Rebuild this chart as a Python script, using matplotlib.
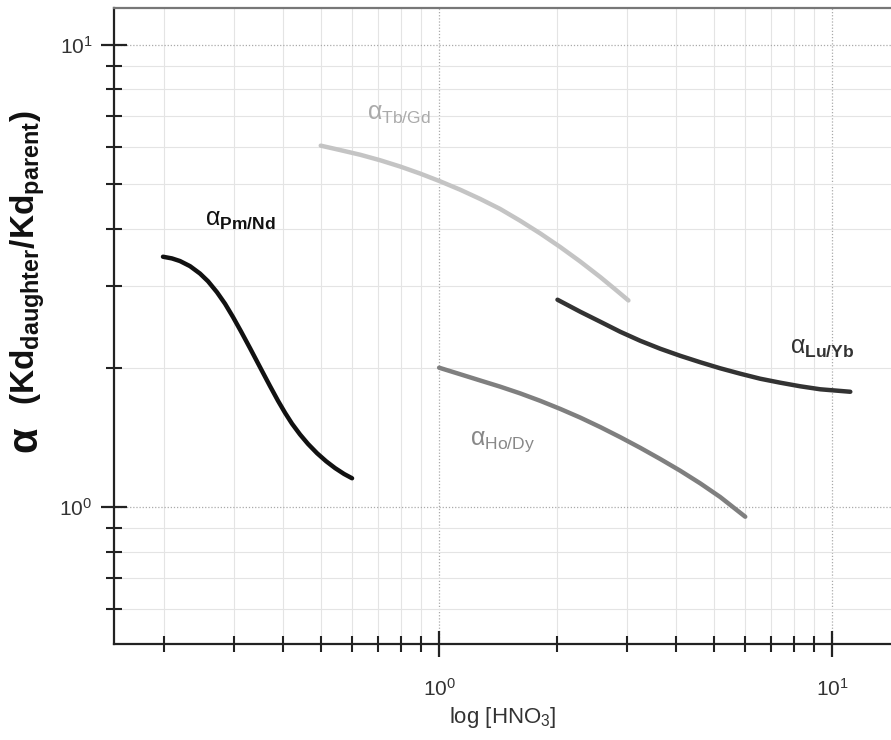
import matplotlib
matplotlib.use("Agg")
import matplotlib.pyplot as plt
from matplotlib.ticker import LogLocator, NullFormatter, LogFormatterMathtext

plt.rcParams["font.family"] = ["Liberation Sans", "DejaVu Sans"]
plt.rcParams["mathtext.fontset"] = "custom"
plt.rcParams["mathtext.rm"] = "Liberation Sans"
plt.rcParams["mathtext.it"] = "Liberation Sans"
plt.rcParams["mathtext.bf"] = "Liberation Sans:bold"

# Separation factors vs nitric acid concentration
pm_nd_x = [0.1985, 0.2092, 0.2193, 0.2325, 0.2465, 0.2584, 0.2723, 0.2855, 0.2991, 0.3134,
           0.3304, 0.3503, 0.3715, 0.3893, 0.4056, 0.4226, 0.4429, 0.4641, 0.4894, 0.5160,
           0.5437, 0.5731, 0.6006]
pm_nd_y = [3.476, 3.447, 3.402, 3.317, 3.197, 3.076, 2.913, 2.750, 2.574, 2.397,
           2.205, 2.006, 1.825, 1.696, 1.598, 1.513, 1.434, 1.368, 1.306, 1.255,
           1.213, 1.178, 1.153]

tb_gd_x = [0.50, 0.560, 0.630, 0.708, 0.796, 0.895, 1.006, 1.131, 1.271, 1.429,
           1.607, 1.807, 2.032, 2.285, 2.569, 2.804, 3.03]
tb_gd_y = [6.045, 5.914, 5.777, 5.621, 5.448, 5.260, 5.061, 4.854, 4.637, 4.411,
           4.159, 3.905, 3.649, 3.394, 3.142, 2.955, 2.796]

ho_dy_x = [1.0, 1.131, 1.271, 1.429, 1.607, 1.807, 2.032, 2.285, 2.569, 2.888,
           3.247, 3.651, 4.105, 4.615, 5.188, 6.005]
ho_dy_y = [2.0, 1.936, 1.877, 1.820, 1.760, 1.696, 1.629, 1.560, 1.488, 1.415,
           1.342, 1.269, 1.197, 1.124, 1.050, 0.952]

lu_yb_x = [2.0, 2.285, 2.569, 2.888, 3.247, 3.651, 4.105, 4.615, 5.188, 5.833,
           6.558, 7.373, 8.289, 9.322, 11.11]
lu_yb_y = [2.806, 2.643, 2.515, 2.392, 2.287, 2.198, 2.122, 2.055, 1.994, 1.941,
           1.893, 1.856, 1.823, 1.796, 1.774]

W, H = 891, 740
fig = plt.figure(figsize=(W / 100, H / 100), dpi=100)
ax = fig.add_axes([114 / W, 1 - 644 / H, 1 - 114 / W, (644 - 8) / H])

ax.set_xscale("log")
ax.set_yscale("log")
ax.set_xlim(0.149, 14.1)
ax.set_ylim(0.505, 12.0)

lw = 3.2
kw = dict(lw=lw, solid_capstyle="round", solid_joinstyle="round")
ax.plot(pm_nd_x, pm_nd_y, color="#111111", **kw)
ax.plot(tb_gd_x, tb_gd_y, color="#c4c4c4", **kw)
ax.plot(ho_dy_x, ho_dy_y, color="#7f7f7f", **kw)
ax.plot(lu_yb_x, lu_yb_y, color="#333333", **kw)

lab_fs = 18
ax.text(0.254, 4.08, r"$\alpha_{\mathbf{Pm/Nd}}$", color="#111111", fontsize=lab_fs, ha="left", va="baseline")
ax.text(0.656, 6.88, r"$\alpha_{\mathrm{Tb/Gd}}$", color="#aaaaaa", fontsize=lab_fs, ha="left", va="baseline")
ax.text(1.199, 1.362, r"$\alpha_{\mathrm{Ho/Dy}}$", color="#888888", fontsize=lab_fs, ha="left", va="baseline")
ax.text(7.82, 2.154, r"$\alpha_{\mathbf{Lu/Yb}}$", color="#333333", fontsize=lab_fs, ha="left", va="baseline")

# Axis styling
for side in ["left", "bottom", "top"]:
    ax.spines[side].set_linewidth(1.6)
    ax.spines[side].set_color("#222222")
ax.spines["top"].set_color("#777777")
ax.spines["right"].set_visible(False)

ax.xaxis.set_major_locator(LogLocator(base=10, numticks=10))
ax.xaxis.set_minor_locator(LogLocator(base=10, subs=range(2, 10), numticks=20))
ax.yaxis.set_major_locator(LogLocator(base=10, numticks=10))
ax.yaxis.set_minor_locator(LogLocator(base=10, subs=range(2, 10), numticks=20))
ax.xaxis.set_minor_formatter(NullFormatter())
ax.yaxis.set_minor_formatter(NullFormatter())
ax.xaxis.set_major_formatter(LogFormatterMathtext())
ax.yaxis.set_major_formatter(LogFormatterMathtext())

ax.tick_params(which="major", direction="inout", length=19, width=1.6, color="#222222",
               labelsize=15, labelcolor="#333333", top=False, right=False)
ax.tick_params(which="minor", direction="inout", length=11, width=1.5, color="#222222",
               top=False, right=False)
ax.tick_params(axis="x", which="major", pad=15)
ax.tick_params(axis="y", which="major", pad=6)

ax.grid(which="minor", color="#e4e4e4", lw=0.8, ls="-")
ax.grid(which="major", color="#aaaaaa", lw=0.9, ls=(0, (1, 1.5)))
ax.set_axisbelow(True)

ax.set_xlabel(r"log [HNO$_3$]", fontsize=16, color="#333333", labelpad=4)

fig.text(27 / W, 1 - 440 / H, r"$\mathbf{\alpha}$", fontsize=30, rotation=90,
         ha="center", va="center", color="#111111", fontweight="bold")
fig.text(28 / W, 1 - 258 / H, r"(Kd$_{\mathbf{daughter}}$/Kd$_{\mathbf{parent}}$)",
         fontsize=24, rotation=90, ha="center", va="center", color="#111111",
         fontweight="bold")

fig.savefig("out.png", dpi=100, facecolor="white")
